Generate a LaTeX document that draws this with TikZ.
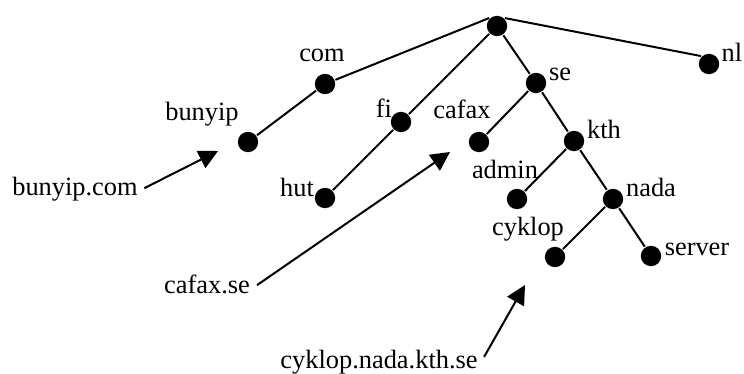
\documentclass[tikz,border=0pt]{standalone}
\usepackage{fontspec}
\setmainfont{Liberation Serif}
\usetikzlibrary{arrows.meta,positioning}
\begin{document}
\begin{tikzpicture}[x=0.5pt,y=-0.5pt,line width=1pt,>={Triangle[length=9.5pt,width=9.5pt]},
point/.style = {circle, fill = black, inner sep = 0pt, minimum size = 10.2pt},
txt/.style = {inner sep = 1pt, text height = 0.7em, text depth = 0.2em, font = \fontsize{13.2}{15}\selectfont},]
\useasboundingbox (0,0) rectangle (744,374);
\node (root) at (497,26)[point] {};
\node (com) at (325,84)[point] {};
\node (bunyip) at (248,142)[point] {};
\node (fi) at (401,122)[point] {};
\node (hut) at (325,198)[point] {};
\node (se) at (536,83)[point] {};
\node (cafax) at (479,142)[point] {};
\node (kth) at (574,141)[point] {};
\node (admin) at (517,199)[point] {};
\node (nada) at (613,199)[point] {};
\node (cyklop) at (555,257)[point] {};
\node (server) at (651,256)[point] {};
\node (nl) at (709,64)[point] {};
\node (tcom) at (322,57)[txt] {com};
\node (tbunyip) at (202,115)[txt] {bunyip};
\node (tfi) at (384,113)[txt] {fi};
\node (thut) at (297,191)[txt] {hut};
\node (tse) at (560,76)[txt] {se};
\node (tcafax) at (462,114)[txt] {cafax};
\node (tkth) at (604,134)[txt] {kth};
\node (tadmin) at (505,173)[txt] {admin};
\node (tnada) at (651,191)[txt] {nada};
\node (tcyklop) at (528,230)[txt] {cyklop};
\node (tserver) at (697,250)[txt] {server};
\node (tnl) at (732,57)[txt] {nl};
\node (bunyipcom) at (75,190)[txt] {bunyip.com};
\node (cafaxse) at (207,288)[txt] {cafax.se};
\node (cyklopfull) at (379,363)[txt] {cyklop.nada.kth.se};
\coordinate (Tb) at (218,151);
\coordinate (Tc) at (450,152);
\coordinate (Tk) at (525,285);
\draw (root.north west) --(com)--(bunyip);
\draw (root) --(fi)--(hut);
\draw (root) --(se)--(cafax);
\draw (se) --(kth)--(admin);
\draw (kth) --(nada)--(cyklop);
\draw (nada) --(server);
\draw (root.north east) --(nl.north west);
\draw[->,shorten <=2pt] (bunyipcom.east) --(Tb);
\draw[->,shorten <=2.5pt] (cafaxse.east) --(Tc);
\draw[->,shorten <=3.5pt] (cyklopfull.east) --(Tk);
\end{tikzpicture}
\end{document}
